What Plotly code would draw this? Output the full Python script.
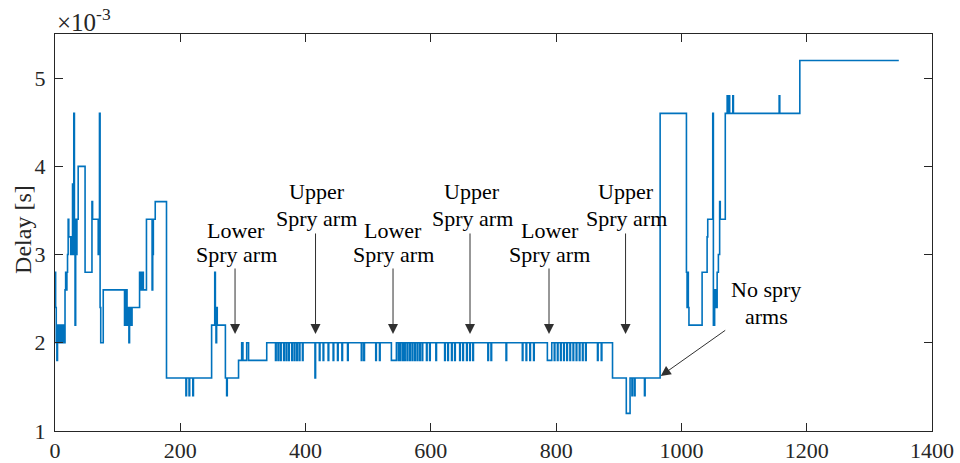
import plotly.graph_objects as go

# ---- data (delay in units of 1e-3 s), step change points ----
# segment A: 0-178
t_a = [0, 1, 2, 3, 4, 5, 6, 7, 8, 9, 10, 11, 12, 13, 14, 15, 16, 17, 18, 19, 20, 21, 22,
       25, 26, 27, 28, 29, 30, 31, 32, 33, 34, 35, 37,
       48, 59, 60, 69, 71, 72, 73, 77,
       111, 113, 115, 116, 117, 118, 119, 120, 121, 122, 123,
       135, 136, 138, 139, 140, 141, 146, 155, 156, 157, 160]
v_a = [2.8, 2.4, 2.0, 1.8, 2.2, 2.0, 2.2, 2.0, 2.2, 2.0, 2.2, 2.0, 2.2, 2.0, 2.2, 2.0, 2.6, 2.8, 2.6, 2.8, 3.0, 3.4, 3.2,
       3.0, 3.2, 3.0, 3.8, 3.0, 4.6, 3.4, 2.2, 3.4, 3.0, 3.4, 4.0,
       2.8, 3.6, 3.4, 3.0, 4.6, 2.4, 2.0, 2.6,
       2.2, 2.6, 2.2, 2.4, 2.2, 2.0, 2.4, 2.2, 2.4, 2.2, 2.4,
       2.8, 2.6, 2.8, 2.6, 2.8, 2.6, 3.4, 2.6, 3.0, 3.4, 3.6]
# segment B: 178-338
t_b = [178, 209, 210, 214, 215, 220, 221, 250, 255, 256, 257, 258, 259, 272, 274, 275, 293, 298, 300, 306, 309]
v_b = [1.6, 1.4, 1.6, 1.4, 1.6, 1.4, 1.6, 2.2, 2.8, 2.4, 2.0, 2.4, 2.2, 1.6, 1.4, 1.6, 1.8, 2.0, 1.8, 2.0, 1.8]
# segment C: 338-890 (2.0 plateau with short drops)
t_c = [338,
       352, 353, 356, 357, 360, 361, 365, 366, 369, 370, 373, 374, 378, 379, 382, 383, 386, 387, 390, 391, 395, 396,
       415, 416,
       422, 423, 428, 429, 436, 437, 444, 445, 451, 452, 458, 459, 467, 468,
       489, 490, 493, 494, 512, 513, 518, 519, 537, 545,
       548, 549, 551, 552, 555, 556, 558, 559, 562, 563, 566, 567, 570, 571, 574, 575, 578, 579, 582, 583, 586, 587,
       593, 594, 598, 599, 608, 609,
       622, 623, 627, 628, 633, 634, 638, 639, 646, 647, 651, 652, 657, 658, 662, 663, 667, 668,
       691, 692, 696, 697, 720, 721, 746, 747, 752, 753, 758, 759, 764, 765, 786, 793,
       797, 798, 802, 803, 807, 808, 812, 813, 817, 818, 822, 823, 827, 828, 832, 833, 837, 838, 842, 843, 847, 848,
       866, 867, 872, 873]
v_c = [2.0,
       1.8, 2.0, 1.8, 2.0, 1.8, 2.0, 1.8, 2.0, 1.8, 2.0, 1.8, 2.0, 1.8, 2.0, 1.8, 2.0, 1.8, 2.0, 1.8, 2.0, 1.8, 2.0,
       1.6, 2.0,
       1.8, 2.0, 1.8, 2.0, 1.8, 2.0, 1.8, 2.0, 1.8, 2.0, 1.8, 2.0, 1.8, 2.0,
       1.8, 2.0, 1.8, 2.0, 1.8, 2.0, 1.8, 2.0, 1.8, 2.0,
       1.8, 2.0, 1.8, 2.0, 1.8, 2.0, 1.8, 2.0, 1.8, 2.0, 1.8, 2.0, 1.8, 2.0, 1.8, 2.0, 1.8, 2.0, 1.8, 2.0, 1.8, 2.0,
       1.8, 2.0, 1.8, 2.0, 1.8, 2.0,
       1.8, 2.0, 1.8, 2.0, 1.8, 2.0, 1.8, 2.0, 1.8, 2.0, 1.8, 2.0, 1.8, 2.0, 1.8, 2.0, 1.8, 2.0,
       1.8, 2.0, 1.8, 2.0, 1.8, 2.0, 1.8, 2.0, 1.8, 2.0, 1.8, 2.0, 1.8, 2.0, 1.8, 2.0,
       1.8, 2.0, 1.8, 2.0, 1.8, 2.0, 1.8, 2.0, 1.8, 2.0, 1.8, 2.0, 1.8, 2.0, 1.8, 2.0, 1.8, 2.0, 1.8, 2.0, 1.8, 2.0,
       1.8, 2.0, 1.8, 2.0]
# segment D: 890-966
t_d = [890, 912, 918, 921, 922, 925, 926, 941, 942]
v_d = [1.6, 1.2, 1.6, 1.4, 1.6, 1.4, 1.6, 1.4, 1.6]
# segment E: 966-1347
t_e = [966, 1008, 1009, 1010, 1011, 1012, 1033, 1041, 1042, 1050, 1051, 1053, 1055, 1057, 1059, 1061, 1062,
       1070, 1073, 1074, 1076, 1077, 1082, 1083, 1156, 1157, 1189, 1347]
v_e = [4.6, 2.8, 2.4, 2.8, 2.4, 2.2, 2.8, 3.2, 3.4, 4.6, 2.2, 2.6, 2.4, 2.8, 3.0, 3.6, 3.4,
       4.6, 4.8, 4.6, 4.8, 4.6, 4.8, 4.6, 4.8, 4.6, 5.2, 5.2]

for a, b in [(t_a, v_a), (t_b, v_b), (t_c, v_c), (t_d, v_d), (t_e, v_e)]:
    assert len(a) == len(b)

t = t_a + t_b + t_c + t_d + t_e
delay = v_a + v_b + v_c + v_d + v_e

x_ticks = [0, 200, 400, 600, 800, 1000, 1200, 1400]
y_ticks = [1, 2, 3, 4, 5]

# annotation labels: (text, x, y)
labels = [
    ("Lower", 289, 3.27), ("Spry arm", 289, 3.0),
    ("Upper", 418, 3.718), ("Spry arm", 418, 3.408),
    ("Lower", 540, 3.27), ("Spry arm", 540, 3.0),
    ("Upper", 666, 3.718), ("Spry arm", 666, 3.408),
    ("Lower", 790, 3.27), ("Spry arm", 790, 3.0),
    ("Upper", 912, 3.718), ("Spry arm", 912, 3.408),
    ("No spry", 1135, 2.607), ("arms", 1135, 2.297),
]
# arrows: (head x, head y, tail x, tail y)
arrows = [
    (287.4, 2.10, 287.4, 2.859),
    (415.9, 2.10, 415.9, 3.256),
    (539.6, 2.10, 539.6, 2.859),
    (662.5, 2.10, 662.5, 3.256),
    (788.6, 2.10, 788.6, 2.859),
    (910.8, 2.10, 910.8, 3.256),
    (967.0, 1.624, 1072.3, 2.153),
]

SERIF = "Liberation Serif, Times New Roman, serif"
AX = "#262626"

fig = go.Figure(go.Scatter(x=t, y=delay, mode="lines",
                           line=dict(color="#0072BD", width=1.6, shape="hv"),
                           hoverinfo="skip"))

ann = []
for txt, x, y in labels:
    ann.append(dict(text=txt, x=x, y=y, xref="x", yref="y", showarrow=False,
                    xanchor="center", yanchor="middle",
                    font=dict(family=SERIF, size=22, color="black")))
for hx, hy, tx, ty in arrows:
    ann.append(dict(text="", x=hx, y=hy, ax=tx, ay=ty, xref="x", yref="y",
                    axref="x", ayref="y", showarrow=True, arrowhead=2,
                    arrowsize=2, arrowwidth=1, arrowcolor="#303030", standoff=0))
ann.append(dict(text="Delay [s]", x=-0.0365, y=0.509, xref="paper", yref="paper",
                showarrow=False, textangle=-90, xanchor="center", yanchor="middle",
                font=dict(family=SERIF, size=24, color=AX)))
ann.append(dict(text="×10<sup>-3</sup>", x=0.0, y=1.0, xref="paper", yref="paper",
                showarrow=False, xanchor="left", yanchor="bottom", yshift=-4,
                font=dict(family=SERIF, size=25, color=AX)))

fig.update_layout(
    width=960, height=463,
    margin=dict(l=55, r=28, t=34, b=32, autoexpand=False),
    paper_bgcolor="white", plot_bgcolor="white",
    showlegend=False,
    font=dict(family=SERIF, color=AX),
    annotations=ann,
)
fig.update_xaxes(range=[0, 1400], tickvals=x_ticks, ticktext=[str(v) for v in x_ticks],
                 ticks="inside", ticklen=8, tickwidth=1, tickcolor=AX, automargin=False,
                 showline=True, linecolor=AX, linewidth=1, mirror="ticks",
                 showgrid=False, zeroline=False, tickfont=dict(family=SERIF, size=22, color=AX))
fig.update_yaxes(range=[1, 5.5], tickvals=y_ticks, ticktext=[str(v) for v in y_ticks],
                 ticks="inside", ticklen=8, tickwidth=1, tickcolor=AX, automargin=False,
                 showline=True, linecolor=AX, linewidth=1, mirror="ticks",
                 showgrid=False, zeroline=False, ticklabelstandoff=4,
                 tickfont=dict(family=SERIF, size=22, color=AX))

fig.write_html("out.html")
